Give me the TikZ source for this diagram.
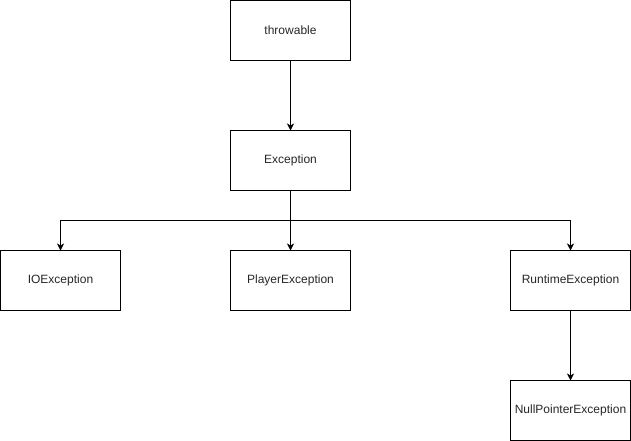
\documentclass[tikz,border=0pt]{standalone}
\usepackage{fontspec}
\setmainfont{Liberation Sans}
\usetikzlibrary{arrows.meta}
\begin{document}
\begin{tikzpicture}[x=1pt,y=-1pt,
  cls/.style={draw=black,line width=1pt,minimum width=120pt,minimum height=60pt,inner sep=0pt,outer sep=0pt,font=\fontsize{12}{14}\selectfont,text=black!85,anchor=north west},
  conn/.style={draw=black,line width=1pt,-{Stealth[length=7pt,width=7pt,inset=2pt]}}]
\useasboundingbox (0,0) rectangle (631,441);
\node[cls] (thr) at (230.5,0.5) {throwable};
\node[cls] (exc) at (230.5,130.5) {Exception};
\node[cls] (io) at (0.5,250.5) {IOException};
\node[cls] (pl) at (230.5,250.5) {PlayerException};
\node[cls] (rt) at (510.5,250.5) {RuntimeException};
\node[cls] (np) at (510.5,380.5) {NullPointerException};
\coordinate (bus) at (290.5,220.5);
\draw[conn] (thr.south) -- (exc.north);
\draw[conn] (exc.south) -- (bus) -| (io.north);
\draw[conn] (exc.south) -- (pl.north);
\draw[conn] (bus) -| (rt.north);
\draw[conn] (rt.south) -- (np.north);
\end{tikzpicture}
\end{document}
